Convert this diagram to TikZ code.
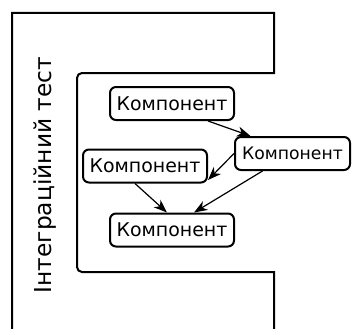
\documentclass[tikz,border=0pt]{standalone}
\usepackage{fontspec}
\setmainfont{DejaVu Sans}
\usetikzlibrary{arrows.meta}
\begin{document}
\begin{tikzpicture}[x=0.75pt,y=-0.75pt,
  comp/.style={draw,line width=1.5pt,rounded corners=4.5pt,
    minimum width=93pt,minimum height=24.75pt,inner sep=0pt,
    font=\fontsize{14.2}{17}\selectfont},
  frame/.style={line width=1.5pt},
  arr/.style={line width=0.9pt,-{Stealth[length=10pt,width=7.5pt,inset=3pt]}}]
\useasboundingbox (0,0) rectangle (352,328);
% test frame with the inner recess
\draw[frame] (12,332) -- (12,13) -- (274,13) -- (274,73) -- (82,73)
  arc[start angle=270,end angle=180,radius=5] -- (77,267)
  arc[start angle=180,end angle=90,radius=5] -- (274,272) -- (274,332);
\node[rotate=90,font=\fontsize{17.5}{20}\selectfont] (title) at (45,175) {Інтеграційний тест};
% components
\node[comp] (ctop) at (172,103.5) {Компонент};
\node[comp,minimum width=86.25pt,font=\fontsize{12.9}{15}\selectfont] (cright) at (292.5,153.5) {Компонент};
\node[comp] (cleft) at (145,166) {Компонент};
\node[comp] (cbot) at (172,230) {Компонент};
% dependencies
\draw[arr] ([xshift=27pt]ctop.south) -- ([xshift=-31.5pt]cright.north);
\draw[arr] (cright.west) -- ([yshift=-10.5pt]cleft.east);
\draw[arr] ([xshift=-7.5pt]cleft.south) -- ([xshift=-3.75pt]cbot.north);
\draw[arr] ([xshift=-22.5pt]cright.south) -- ([xshift=16.5pt]cbot.north);
\end{tikzpicture}
\end{document}
